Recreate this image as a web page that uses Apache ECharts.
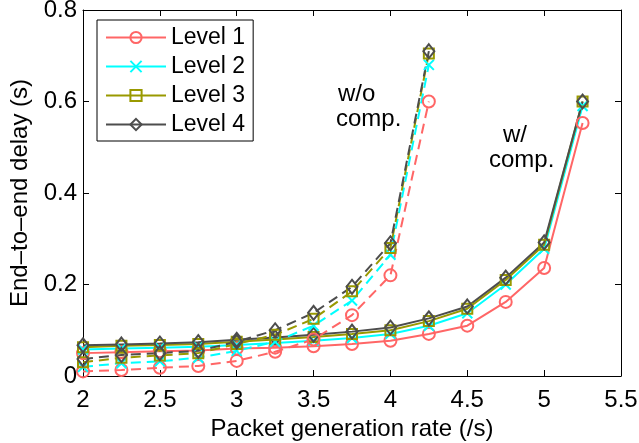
<!DOCTYPE html>
<html>
<head>
<meta charset="utf-8">
<script src="https://cdn.jsdelivr.net/npm/echarts@6.0.0/dist/echarts.min.js"></script>
<style>
  body { margin: 0; background: #fff; }
  #chart { width: 639px; height: 443px; }
</style>
</head>
<body>
<div id="chart"></div>
<script>
// packet generation rates (/s)
var rateComp = [2, 2.25, 2.5, 2.75, 3, 3.25, 3.5, 3.75, 4, 4.25, 4.5, 4.75, 5, 5.25];
var rateNoComp = [2, 2.25, 2.5, 2.75, 3, 3.25, 3.5, 3.75, 4, 4.25];

var levels = ['Level 1', 'Level 2', 'Level 3', 'Level 4'];

// end-to-end delay (s), with compensation (solid)
var compL1 = [0.05, 0.052, 0.054, 0.056, 0.06, 0.062, 0.065, 0.07, 0.077, 0.092, 0.11, 0.162, 0.236, 0.553];
var compL2 = [0.058, 0.06, 0.062, 0.064, 0.068, 0.072, 0.077, 0.083, 0.092, 0.11, 0.137, 0.2, 0.278, 0.59];
var compL3 = [0.063, 0.066, 0.068, 0.07, 0.075, 0.08, 0.085, 0.092, 0.1, 0.12, 0.147, 0.21, 0.287, 0.6];
var compL4 = [0.067, 0.069, 0.071, 0.074, 0.079, 0.084, 0.09, 0.097, 0.106, 0.126, 0.152, 0.215, 0.292, 0.6];

// without compensation (dashed)
var noCompL1 = [0.01, 0.013, 0.018, 0.022, 0.033, 0.053, 0.08, 0.133, 0.22, 0.6];
var noCompL2 = [0.02, 0.028, 0.032, 0.04, 0.055, 0.075, 0.11, 0.165, 0.265, 0.68];
var noCompL3 = [0.03, 0.04, 0.045, 0.05, 0.07, 0.09, 0.125, 0.185, 0.28, 0.705];
var noCompL4 = [0.037, 0.046, 0.05, 0.055, 0.075, 0.1, 0.138, 0.195, 0.29, 0.71];

var xTicks = { min: 2, max: 5.5, interval: 0.5 };
var yTicks = { min: 0, max: 0.8, interval: 0.2 };

var colors = ['#ff6666', '#00ffff', '#999900', '#4d4d4d'];
var symbols = ['circle', 'path://M0,0L10,10M0,10L10,0', 'rect', 'diamond'];
var symbolSizes = [12, 10, 10, [11, 14]];

var FONT = 'Liberation Sans';

function pairs(xs, ys) {
  return xs.map(function (x, i) { return [x, ys[i]]; });
}

function makeSeries(i, xs, ys, dashed) {
  return {
    name: levels[i],
    type: 'line',
    data: pairs(xs, ys),
    symbol: symbols[i],
    symbolSize: symbolSizes[i],
    showAllSymbol: true,
    animation: false,
    lineStyle: { color: colors[i], width: 2, type: dashed ? [10, 6] : 'solid' },
    itemStyle: { color: 'rgba(0,0,0,0)', borderColor: colors[i], borderWidth: 2 },
    emphasis: { disabled: true }
  };
}

var compData = [compL1, compL2, compL3, compL4];
var noCompData = [noCompL1, noCompL2, noCompL3, noCompL4];
var series = [];
for (var i = 0; i < 4; i++) series.push(makeSeries(i, rateComp, compData[i], false));
for (var j = 0; j < 4; j++) series.push(makeSeries(j, rateNoComp, noCompData[j], true));

var axisLine = { show: true, onZero: false, lineStyle: { color: '#000', width: 1 } };
var tick = { show: true, inside: true, length: 6, lineStyle: { color: '#000' } };
var labelStyle = { color: '#000', fontSize: 24, fontFamily: FONT };

var chart = echarts.init(document.getElementById('chart'));
var option = {
  backgroundColor: '#fff',
  animation: false,
  grid: { left: 83, right: 18, top: 10, bottom: 67, outerBoundsMode: 'none', containLabel: false },
  xAxis: [
    {
      type: 'value', min: xTicks.min, max: xTicks.max, interval: xTicks.interval,
      name: 'Packet generation rate (/s)', nameLocation: 'middle', nameGap: 36,
      nameTextStyle: labelStyle,
      axisLine: axisLine, axisTick: tick, splitLine: { show: false },
      axisLabel: Object.assign({ margin: 12 }, labelStyle)
    },
    {
      type: 'value', position: 'top', min: xTicks.min, max: xTicks.max, interval: xTicks.interval,
      axisLine: axisLine, axisTick: tick, splitLine: { show: false }, axisLabel: { show: false }
    }
  ],
  yAxis: [
    {
      type: 'value', min: yTicks.min, max: yTicks.max, interval: yTicks.interval,
      name: 'End–to–end delay (s)', nameLocation: 'middle', nameGap: 50,
      nameTextStyle: labelStyle,
      axisLine: axisLine, axisTick: tick, splitLine: { show: false },
      axisLabel: Object.assign({ margin: 6 }, labelStyle)
    },
    {
      type: 'value', position: 'right', min: yTicks.min, max: yTicks.max, interval: yTicks.interval,
      axisLine: axisLine, axisTick: tick, splitLine: { show: false }, axisLabel: { show: false }
    }
  ],
  legend: {
    data: levels,
    orient: 'vertical',
    left: 97, top: 20,
    padding: [6, 8, 5, 8],
    itemWidth: 60, itemHeight: 14, itemGap: 6,
    borderColor: '#000', borderWidth: 1,
    backgroundColor: '#fff',
    selectedMode: false,
    textStyle: { color: '#000', fontSize: 23, fontFamily: FONT }
  },
  graphic: [
    { type: 'text', left: 338, top: 82, style: { text: 'w/o', fill: '#000', font: '24px "Liberation Sans"' } },
    { type: 'text', left: 336, top: 107, style: { text: 'comp.', fill: '#000', font: '24px "Liberation Sans"' } },
    { type: 'text', left: 503, top: 123, style: { text: 'w/', fill: '#000', font: '24px "Liberation Sans"' } },
    { type: 'text', left: 489, top: 148, style: { text: 'comp.', fill: '#000', font: '24px "Liberation Sans"' } }
  ],
  series: series
};
chart.setOption(option);
</script>
</body>
</html>
